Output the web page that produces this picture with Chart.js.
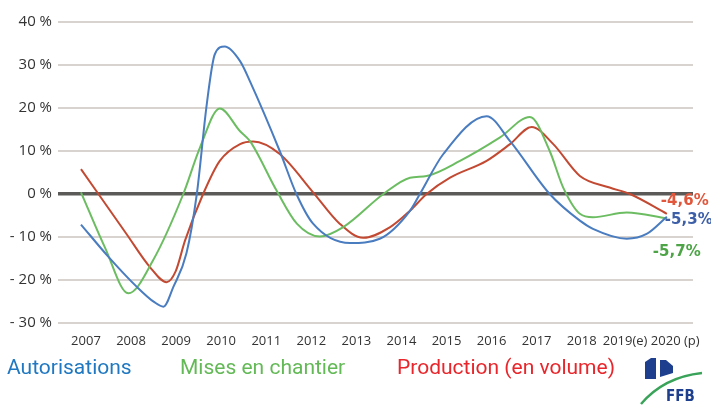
<!DOCTYPE html>
<html>
<head>
<meta charset="utf-8">
<script src="https://cdn.jsdelivr.net/npm/chart.js@4/dist/chart.umd.min.js"></script>
<style>
  html, body { margin: 0; padding: 0; background: #fff; }
  #wrap { width: 711px; height: 405px; position: relative; }
</style>
</head>
<body>
<div id="wrap"><canvas id="grafica" width="711" height="405"></canvas></div>
<script>
// annees affichees sur l'axe
const annees = [2007, 2008, 2009, 2010, 2011, 2012, 2013, 2014, 2015, 2016, 2017, 2018, 2019, 2020];
const etiquettesX = ["2007", "2008", "2009", "2010", "2011", "2012", "2013", "2014", "2015", "2016", "2017", "2018", "2019(e) ", "  2020 (p)"];
const ticksY = [-30, -20, -10, 0, 10, 20, 30, 40];

// Autorisations
const autoX = [2007, 2007.6, 2008.24, 2008.62, 2008.83, 2009.05, 2009.34, 2009.57, 2009.79, 2009.97, 2010.19, 2010.53, 2010.75, 2011.41, 2011.78, 2012.15, 2012.97, 2013.63, 2014.3, 2014.52, 2015.04, 2016.0, 2016.52, 2017.4, 2018.07, 2018.36, 2019.11, 2019.55, 2020];
const autoY = [-7.1, -14.5, -21.6, -25.1, -26.2, -21.6, -13.8, 0, 20.8, 32.5, 34.3, 30.9, 26.2, 10, 0, -6.9, -11.4, -10.4, -3.9, 0, 9.3, 18.1, 12.3, 0, -6.2, -8.1, -10.4, -9.3, -5.3];

// Mises en chantier
const misesX = [2007, 2007.53, 2008.05, 2008.6, 2009.27, 2009.64, 2010.08, 2010.53, 2010.75, 2011.34, 2011.79, 2012.3, 2012.82, 2013.71, 2014.3, 2014.67, 2015.41, 2016.29, 2016.96, 2017.4, 2017.7, 2018.07, 2018.36, 2019.11, 2020];
const misesY = [0.4, -12.4, -23.1, -15.4, 0, 10.8, 19.9, 14.6, 12.3, 0.8, -6.9, -9.9, -7.7, 0, 3.8, 4.2, 7.7, 13.1, 17.9, 10, 1.5, -4.6, -5.4, -4.3, -5.7];

// Production (en volume)
const prodX = [2007, 2008.01, 2008.53, 2008.9, 2009.1, 2009.31, 2009.71, 2010.08, 2010.53, 2010.82, 2011.41, 2012.15, 2012.74, 2013.26, 2013.86, 2014.3, 2014.67, 2015.19, 2016.0, 2016.52, 2017.0, 2017.48, 2018.07, 2018.73, 2019.18, 2020];
const prodY = [5.8, -9.3, -17, -20.5, -18, -10.8, 0, 7.7, 11.6, 12.2, 9.3, 0.4, -6.9, -10.2, -7.7, -3.9, 0, 3.8, 7.7, 11.6, 15.6, 11.6, 4.2, 1.5, 0, -4.6];

const legende = [
  { texte: "Autorisations", couleur: "#1f78c1", x: 7 },
  { texte: "Mises en chantier", couleur: "#63b956", x: 180 },
  { texte: "Production (en volume)", couleur: "#e8262b", x: 397 }
];

const points = (xs, ys) => xs.map((x, i) => ({ x: x, y: ys[i] }));

// textes de fin de courbe, legende et logo
const decor = {
  id: "decor",
  afterDatasetsDraw(chart) {
    const c = chart.ctx;
    const sx = chart.scales.x, sy = chart.scales.y;
    const xf = sx.getPixelForValue(2020);
    c.save();
    c.font = "bold 15px 'DejaVu Sans'";
    c.textBaseline = "middle";
    c.textAlign = "left";
    c.fillStyle = "#e2573c";
    c.fillText("-4,6%", xf - 6, sy.getPixelForValue(prodY[prodY.length - 1]) - 13);
    c.fillStyle = "#3d5fa8";
    c.fillText("-5,3%", xf - 2, sy.getPixelForValue(autoY[autoY.length - 1]) + 3);
    c.fillStyle = "#4da447";
    c.fillText("-5,7%", xf - 14, sy.getPixelForValue(misesY[misesY.length - 1]) + 34);

    c.font = "21px Roboto";
    legende.forEach(l => {
      c.fillStyle = l.couleur;
      c.fillText(l.texte, l.x, 369);
    });

    // logo FFB
    c.fillStyle = "#1d3f8e";
    c.beginPath();
    c.moveTo(645, 362); c.lineTo(651, 358); c.lineTo(656, 358); c.lineTo(656, 379); c.lineTo(645, 379);
    c.closePath(); c.fill();
    c.beginPath();
    c.moveTo(660, 360); c.lineTo(666, 360); c.lineTo(673, 366); c.lineTo(673, 373); c.lineTo(660, 377);
    c.closePath(); c.fill();
    c.strokeStyle = "#3aa35a";
    c.lineWidth = 2.5;
    c.beginPath();
    c.moveTo(641, 404);
    c.quadraticCurveTo(664, 377, 702, 373);
    c.stroke();
    c.fillStyle = "#1d3f8e";
    c.font = "bold 15px 'DejaVu Sans Condensed', 'DejaVu Sans'";
    c.textBaseline = "alphabetic";
    c.fillText("FFB", 666, 401);
    c.restore();
  }
};

const ctx = document.getElementById("grafica").getContext("2d");
new Chart(ctx, {
  type: "line",
  data: {
    datasets: [
      { label: "Autorisations", data: points(autoX, autoY), borderColor: "#4a7cc0" },
      { label: "Mises en chantier", data: points(misesX, misesY), borderColor: "#6cbd62" },
      { label: "Production (en volume)", data: points(prodX, prodY), borderColor: "#c24a33" }
    ]
  },
  options: {
    responsive: false,
    animation: false,
    layout: { padding: { top: 22, right: 18, left: 0, bottom: 0 } },
    elements: {
      point: { radius: 0 },
      line: { borderWidth: 2, tension: 0.4, cubicInterpolationMode: "monotone", fill: false }
    },
    plugins: {
      legend: { display: false },
      tooltip: { enabled: false }
    },
    scales: {
      x: {
        type: "linear",
        min: 2006.49,
        max: 2020.58,
        afterFit: s => { s.height = 82; },
        afterBuildTicks: s => { s.ticks = annees.map(v => ({ value: v })); },
        grid: { display: false },
        border: { display: false },
        ticks: {
          autoSkip: false,
          maxRotation: 0,
          padding: 2,
          labelOffset: 5,
          color: "#333",
          font: { family: "Open Sans", size: 13 },
          callback: (v, i) => etiquettesX[i]
        }
      },
      y: {
        min: -30,
        max: 40,
        afterFit: s => { s.width = 58; },
        afterBuildTicks: s => { s.ticks = ticksY.map(v => ({ value: v })); },
        grid: {
          drawTicks: false,
          color: c => c.tick && c.tick.value === 0 ? "#5b5a59" : "#d8d3cf",
          lineWidth: c => c.tick && c.tick.value === 0 ? 3.5 : 2
        },
        border: { display: false },
        ticks: {
          padding: 6,
          color: "#333",
          font: { family: "Open Sans", size: 15 },
          callback: v => v < 0 ? "- " + Math.abs(v) + " %" : v + " %"
        }
      }
    }
  },
  plugins: [decor]
});
</script>
</body>
</html>
